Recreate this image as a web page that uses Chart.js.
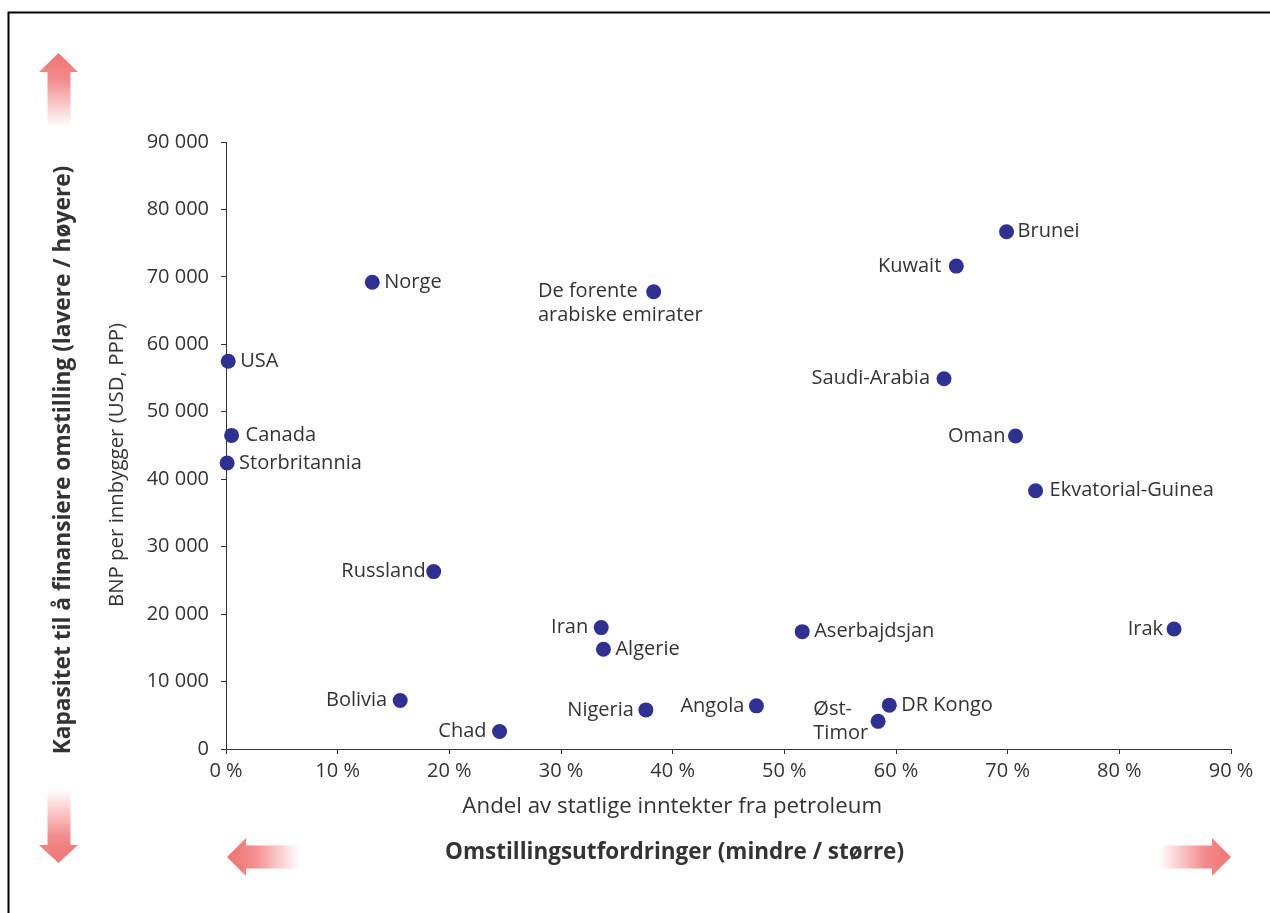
<!DOCTYPE html>
<html lang="no">
<head>
<meta charset="utf-8">
<title>Omstillingsutfordringer og kapasitet til omstilling</title>
<script src="https://cdn.jsdelivr.net/npm/chart.js@4.4.1/dist/chart.umd.min.js"></script>
<style>
  html, body { margin: 0; padding: 0; background: #fff; }
  #wrap { width: 1270px; height: 913px; }
</style>
</head>
<body>
<div id="wrap"><canvas id="chart" width="1270" height="913"></canvas></div>
<script>
// Data
const countries = ['Norge', 'USA', 'Canada', 'Storbritannia', 'Russland', 'Bolivia', 'Chad',
    'Iran', 'Algerie', 'Nigeria', 'De forente arabiske emirater', 'Angola', 'Aserbajdsjan',
    'Øst-Timor', 'DR Kongo', 'Saudi-Arabia', 'Kuwait', 'Brunei', 'Oman', 'Ekvatorial-Guinea', 'Irak'];
// Andel av statlige inntekter fra petroleum (%)
const petroleumShare = [13.1, 0.2, 0.5, 0.1, 18.6, 15.6, 24.5,
    33.6, 33.8, 37.6, 38.3, 47.5, 51.6,
    58.4, 59.4, 64.3, 65.4, 69.9, 70.7, 72.5, 84.9];
// BNP per innbygger (USD, PPP)
const gdpPerCapita = [69200, 57500, 46500, 42400, 26300, 7200, 2600,
    18000, 14800, 5800, 67800, 6400, 17400,
    4100, 6500, 54900, 71600, 76700, 46400, 38300, 17800];
const xTickValues = [0, 10, 20, 30, 40, 50, 60, 70, 80, 90];
const yTickValues = [0, 10000, 20000, 30000, 40000, 50000, 60000, 70000, 80000, 90000];

// Label placement (style only)
const labelStyle = {
    'Russland': { side: 'left', gap: 8 },
    'Bolivia': { side: 'left', gap: 13 },
    'Chad': { side: 'left', gap: 13 },
    'Iran': { side: 'left', gap: 13 },
    'Nigeria': { side: 'left', gap: 12 },
    'De forente arabiske emirater': { side: 'left', gap: 16, lines: ['De forente', 'arabiske emirater'], dy: 12, anchorLine: 0 },
    'Angola': { side: 'left', gap: 12 },
    'Øst-Timor': { side: 'left', gap: 10, lines: ['Øst-', 'Timor'] },
    'Saudi-Arabia': { side: 'left', gap: 14 },
    'Kuwait': { side: 'left', gap: 15 },
    'Oman': { side: 'left', gap: 10 },
    'Irak': { side: 'left', gap: 11 },
    'Canada': { side: 'right', gap: 14 },
    'Brunei': { side: 'right', gap: 11 },
    'Ekvatorial-Guinea': { side: 'right', gap: 14 }
};

const FONT = "'Open Sans', 'Noto Sans', sans-serif";
const TEXT = '#333333';
const DOT = '#2E3192';
const ARROW = '#F07878';

function formatThousands(v) {
    return String(v).replace(/\B(?=(\d{3})+(?!\d))/g, ' ');
}

// Gradient arrow: solid at the head, fading to white at the tail
function drawArrow(ctx, pts, g) {
    const grad = ctx.createLinearGradient(g[0], g[1], g[2], g[3]);
    grad.addColorStop(0, ARROW);
    grad.addColorStop(0.3, '#F38C8C');
    grad.addColorStop(1, 'rgba(255,255,255,1)');
    ctx.beginPath();
    ctx.moveTo(pts[0][0], pts[0][1]);
    for (let i = 1; i < pts.length; i++) ctx.lineTo(pts[i][0], pts[i][1]);
    ctx.closePath();
    ctx.fillStyle = grad;
    ctx.fill();
}

const decorPlugin = {
    id: 'decor',
    beforeDraw(chart) {
        const ctx = chart.ctx;
        ctx.save();
        ctx.fillStyle = '#fff';
        ctx.fillRect(0, 0, chart.width, chart.height);

        // frame
        ctx.strokeStyle = '#000';
        ctx.lineWidth = 2;
        ctx.strokeRect(8.5, 12.5, 1400, 1000);

        // arrows
        drawArrow(ctx, [[58.5, 53], [78, 72], [70.5, 72], [70.5, 127], [47.5, 127], [47.5, 72], [39, 72]], [0, 60, 0, 127]);
        drawArrow(ctx, [[58.5, 863], [78, 845], [70.5, 845], [70.5, 790], [47.5, 790], [47.5, 845], [39, 845]], [0, 856, 0, 790]);
        drawArrow(ctx, [[227, 857], [246, 838], [246, 845.5], [300, 845.5], [300, 868.5], [246, 868.5], [246, 876]], [234, 0, 300, 0]);
        drawArrow(ctx, [[1231, 857], [1212, 838], [1212, 845.5], [1159, 845.5], [1159, 868.5], [1212, 868.5], [1212, 876]], [1224, 0, 1159, 0]);

        // titles
        ctx.fillStyle = TEXT;
        ctx.textAlign = 'center';
        ctx.textBaseline = 'alphabetic';
        ctx.font = '22.3px ' + FONT;
        ctx.fillText('Andel av statlige inntekter fra petroleum', 672.2, 812.5);
        ctx.font = 'bold 22.5px ' + FONT;
        ctx.fillText('Omstillingsutfordringer (mindre / større)', 674.5, 859);

        ctx.save();
        ctx.translate(69.5, 460);
        ctx.rotate(-Math.PI / 2);
        ctx.font = 'bold 22.7px ' + FONT;
        ctx.fillText('Kapasitet til å finansiere omstilling (lavere / høyere)', 0, 0);
        ctx.restore();

        ctx.save();
        ctx.translate(123, 465);
        ctx.rotate(-Math.PI / 2);
        ctx.font = '20.4px ' + FONT;
        ctx.fillText('BNP per innbygger (USD, PPP)', 0, 0);
        ctx.restore();
        ctx.restore();
    },
    afterDatasetsDraw(chart) {
        const ctx = chart.ctx;
        const meta = chart.getDatasetMeta(0);
        ctx.save();
        ctx.font = '20px ' + FONT;
        ctx.fillStyle = TEXT;
        ctx.textAlign = 'left';
        ctx.textBaseline = 'middle';
        const lh = 24;
        meta.data.forEach((pt, i) => {
            const name = countries[i];
            const st = labelStyle[name] || { side: 'right', gap: 12 };
            const lines = st.lines || [name];
            const w = st.anchorLine !== undefined
                ? ctx.measureText(lines[st.anchorLine]).width
                : Math.max(...lines.map(l => ctx.measureText(l).width));
            const x0 = st.side === 'left' ? pt.x - st.gap - w : pt.x + st.gap;
            const n = lines.length;
            lines.forEach((l, k) => {
                ctx.fillText(l, x0, pt.y + (st.dy || 0) + (k - (n - 1) / 2) * lh);
            });
        });
        ctx.restore();
    }
};

const tickFont = { family: FONT, size: 20 };

new Chart(document.getElementById('chart'), {
    type: 'scatter',
    data: {
        datasets: [{
            label: 'Land',
            data: countries.map((c, i) => ({ x: petroleumShare[i], y: gdpPerCapita[i] })),
            backgroundColor: DOT,
            borderWidth: 0,
            pointRadius: 7.5,
            pointHoverRadius: 7.5,
            clip: false
        }]
    },
    options: {
        responsive: false,
        animation: false,
        events: [],
        layout: { padding: { left: 100, right: 39, top: 142, bottom: 100 } },
        plugins: { legend: { display: false }, tooltip: { enabled: false } },
        scales: {
            x: {
                type: 'linear',
                min: 0,
                max: 90,
                afterBuildTicks(s) { s.ticks = xTickValues.map(v => ({ value: v })); },
                afterFit(s) { s.height = 64; },
                ticks: {
                    font: tickFont,
                    color: TEXT,
                    padding: 5,
                    maxRotation: 0,
                    callback: v => v + ' %'
                },
                grid: { drawOnChartArea: false, drawTicks: true, tickLength: 5, color: '#333' },
                border: { display: true, color: '#333', width: 1 }
            },
            y: {
                type: 'linear',
                min: 0,
                max: 90000,
                afterBuildTicks(s) { s.ticks = yTickValues.map(v => ({ value: v })); },
                afterFit(s) { s.width = 126; },
                ticks: {
                    font: tickFont,
                    color: TEXT,
                    padding: 12,
                    callback: v => formatThousands(v)
                },
                grid: { drawOnChartArea: false, drawTicks: true, tickLength: 5, color: '#333' },
                border: { display: true, color: '#333', width: 1 }
            }
        }
    },
    plugins: [decorPlugin]
});
</script>
</body>
</html>
